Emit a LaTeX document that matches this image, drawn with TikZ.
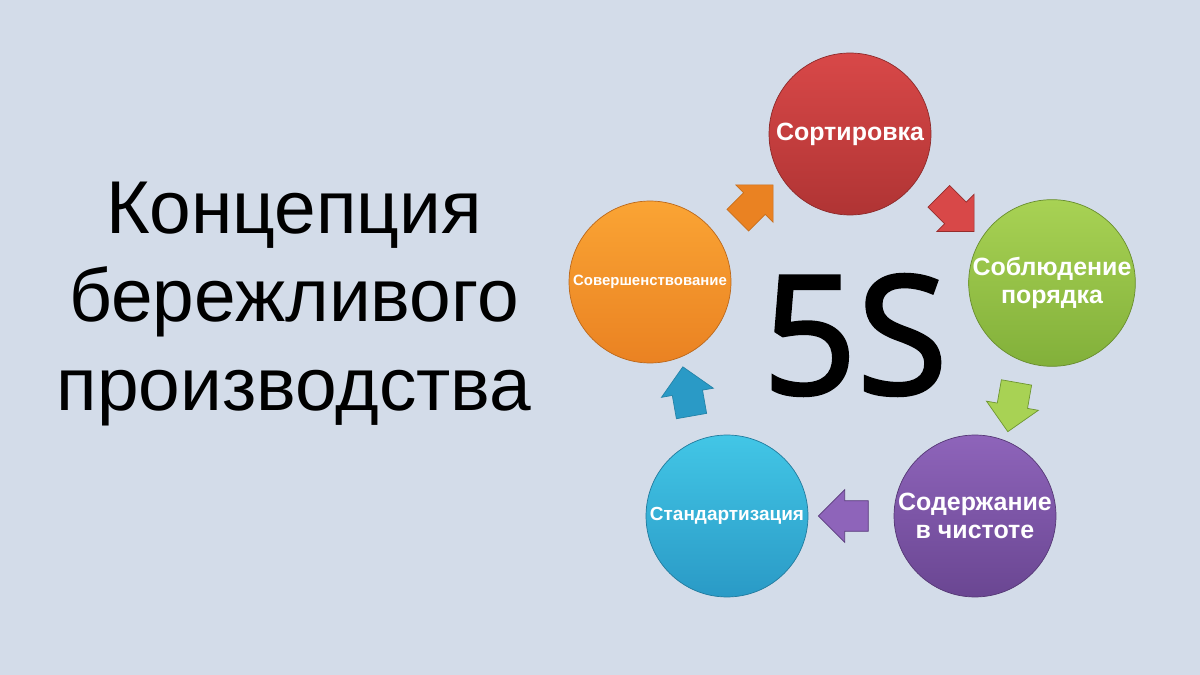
\documentclass[tikz,border=0pt]{standalone}
\usepackage{fontspec}
\setmainfont{Liberation Sans}
\newfontfamily\fivesfont{Open Sans}[FakeBold=2]
\usetikzlibrary{shapes.arrows,calc}

\definecolor{bgblue}{RGB}{211,220,233}
\definecolor{redtop}{RGB}{216,72,72}
\definecolor{redbot}{RGB}{176,52,52}
\definecolor{greentop}{RGB}{168,210,84}
\definecolor{greenbot}{RGB}{130,176,58}
\definecolor{violettop}{RGB}{142,100,186}
\definecolor{violetbot}{RGB}{106,70,146}
\definecolor{cyantop}{RGB}{66,198,230}
\definecolor{cyanbot}{RGB}{42,154,198}
\definecolor{orangetop}{RGB}{250,164,52}
\definecolor{orangebot}{RGB}{234,130,34}

\begin{document}
\begin{tikzpicture}[x=0.02cm,y=-0.02cm]
	\tikzstyle{every node}=[inner sep=0pt]
	\tikzstyle{stage}=[circle,minimum size=3.24cm,text=white,align=center,
		font=\bfseries\fontsize{14.2}{15.5}\selectfont]
	\tikzstyle{turn}=[single arrow,inner xsep=0pt,inner ysep=0.3cm,minimum height=1cm,
		single arrow head extend=0.22cm]
	\fill[bgblue] (0,0) rectangle (1200,675);
	% title
	\node[align=center,font=\fontsize{42.6}{50.2}\selectfont] (title) at (294,304)
		{Концепция\\бережливого\\производства};
	\node[font=\fivesfont\fontsize{94}{94}\selectfont] (fives) at (855,335) {5S};
	% the five stages
	\node[stage,top color=redtop,bottom color=redbot,draw=redbot!80!black] (sort) at (850,134) {Сортировка};
	\node[stage,top color=greentop,bottom color=greenbot,draw=greenbot!80!black] (order) at (1052,283) {Соблюдение\\порядка};
	\node[stage,top color=violettop,bottom color=violetbot,draw=violetbot!80!black] (clean) at (975,516) {Содержание\\в чистоте};
	\node[stage,top color=cyantop,bottom color=cyanbot,draw=cyanbot!80!black,
		font=\bfseries\fontsize{10.8}{12}\selectfont] (standard) at (727,516) {Стандартизация};
	\node[stage,top color=orangetop,bottom color=orangebot,draw=orangebot!80!black,
		font=\bfseries\fontsize{8.5}{10}\selectfont] (improve) at (650,282) {Совершенствование};
	% arrows between stages
	\node[turn,fill=orangebot,draw=orangebot!85!black,rotate=45] (a1) at ($(improve)!0.5!(sort)$) {};
	\node[turn,fill=redtop,draw=redbot!85!black,rotate=-45] (a2) at ($(sort)!0.5!(order)$) {};
	\node[turn,fill=greentop,draw=greenbot!85!black,rotate=-100] (a3) at ($(order)!0.5!(clean)$) {};
	\node[turn,fill=violettop,draw=violetbot!85!black,rotate=180] (a4) at ($(clean)!0.5!(standard)$) {};
	\node[turn,fill=cyanbot,draw=cyanbot!85!black,rotate=100] (a5) at ($(standard)!0.5!(improve)$) {};
\end{tikzpicture}
\end{document}
